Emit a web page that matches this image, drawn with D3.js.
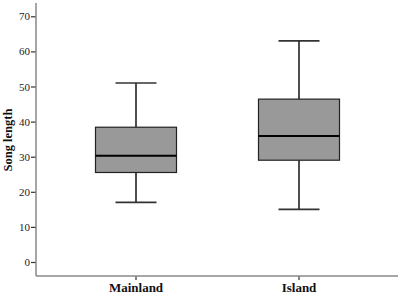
<!DOCTYPE html>
<html><head><meta charset="utf-8">
<script src="https://cdn.jsdelivr.net/npm/d3@7"></script>
<style>body{margin:0;background:#fff}svg{display:block}</style>
</head><body>
<svg id="c" width="401" height="298"></svg>
<script>
const categories = ["Mainland", "Island"];
const whiskerLow = [17, 15];
const q1 = [25.5, 29];
const median = [30.3, 35.9];
const q3 = [38.4, 46.4];
const whiskerHigh = [51, 63];
const yTicks = [0, 10, 20, 30, 40, 50, 60, 70];
const yLabel = "Song length";

const svg = d3.select("#c");
const y = d3.scaleLinear().domain([0, 70]).range([262, 16.3]);
const x = d3.scaleBand().domain(categories).range([54.5, 380.5]);
const boxW = 81, capW = 41;
const serif = "'Liberation Serif', 'Times New Roman', serif";

// y axis
const ya = svg.append("g").attr("transform", "translate(36,0)")
  .call(d3.axisLeft(y).tickValues(yTicks).tickSize(5).tickPadding(1));
ya.select(".domain").remove();
ya.selectAll(".tick line").attr("stroke", "#333").attr("stroke-width", 1.2);
ya.selectAll(".tick text").attr("font-family", serif).attr("font-size", 11).attr("fill", "#222");
svg.append("line").attr("x1", 36).attr("x2", 36).attr("y1", 3).attr("y2", 276)
  .attr("stroke", "#888").attr("stroke-width", 1.5);

// x axis
const xa = svg.append("g").attr("transform", "translate(0,276)")
  .call(d3.axisBottom(x).tickSize(4).tickPadding(3));
xa.select(".domain").remove();
xa.selectAll(".tick line").attr("stroke", "#333").attr("stroke-width", 1.2);
xa.selectAll(".tick text").attr("font-family", serif).attr("font-size", 13)
  .attr("font-weight", "bold").attr("fill", "#111");
svg.append("line").attr("x1", 36).attr("x2", 398).attr("y1", 276).attr("y2", 276)
  .attr("stroke", "#888").attr("stroke-width", 1.5);

// y label
svg.append("text").attr("transform", "translate(12,140) rotate(-90)")
  .attr("text-anchor", "middle").attr("font-family", serif).attr("font-size", 12.5)
  .attr("font-weight", "bold").attr("fill", "#111").text(yLabel);

// boxes
categories.forEach((c, i) => {
  const cx = x(c) + x.bandwidth() / 2;
  const g = svg.append("g");
  g.append("line").attr("x1", cx).attr("x2", cx).attr("y1", y(whiskerHigh[i])).attr("y2", y(q3[i]))
    .attr("stroke", "#222").attr("stroke-width", 1.6);
  g.append("line").attr("x1", cx).attr("x2", cx).attr("y1", y(q1[i])).attr("y2", y(whiskerLow[i]))
    .attr("stroke", "#222").attr("stroke-width", 1.6);
  [whiskerHigh[i], whiskerLow[i]].forEach(v => {
    g.append("line").attr("x1", cx - capW / 2).attr("x2", cx + capW / 2).attr("y1", y(v)).attr("y2", y(v))
      .attr("stroke", "#333").attr("stroke-width", 1.6);
  });
  g.append("rect").attr("x", cx - boxW / 2).attr("width", boxW)
    .attr("y", y(q3[i])).attr("height", y(q1[i]) - y(q3[i]))
    .attr("fill", "#999").attr("stroke", "#222").attr("stroke-width", 1.2);
  g.append("line").attr("x1", cx - boxW / 2).attr("x2", cx + boxW / 2).attr("y1", y(median[i])).attr("y2", y(median[i]))
    .attr("stroke", "#000").attr("stroke-width", 2);
});
</script>
</body></html>
